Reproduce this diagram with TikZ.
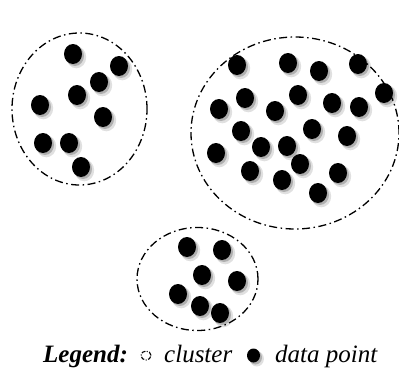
\documentclass[tikz,border=0pt]{standalone}
\usepackage{fontspec}
\setmainfont{Liberation Serif}
\usetikzlibrary{shapes.geometric,shadows}
\begin{document}
\begin{tikzpicture}[x=1pt,y=-1pt,
  pt/.style={ellipse,fill=black,inner sep=0pt,minimum width=18pt,minimum height=20pt,
    drop shadow={shadow xshift=3pt,shadow yshift=-3pt,opacity=0.12,fill=black,shadow scale=1.1},
    drop shadow={shadow xshift=2pt,shadow yshift=-2pt,opacity=0.22,fill=black}},
  clus/.style={ellipse,draw=black,line width=1.3pt,inner sep=0pt,
    dash pattern=on 8pt off 3.5pt on 1.5pt off 3.5pt},
  legtext/.style={anchor=base west,inner sep=0pt,font=\fontsize{25}{28}\selectfont\itshape}]
\useasboundingbox (0,0) rectangle (399,367);
% clusters
\node[clus,minimum width=135pt,minimum height=152pt] (c1) at (79.5,109) {};
\node[clus,minimum width=208pt,minimum height=192pt] (c2) at (295,133) {};
\node[clus,minimum width=121pt,minimum height=103pt] (c3) at (197.5,279) {};
% cluster 1
\foreach \x/\y [count=\i] in {73/54,119/66,99/82,77/95,40/105,103/117,43/143,69/143,81/167}
  \node[pt] (a\i) at (\x,\y) {};
% cluster 2
\foreach \x/\y [count=\i] in {237/65,288/63,319/71,358/64,384/93,245/98,298/95,219/109,275/111,332/103,359/107,241/131,312/129,347/136,261/147,287/146,216/153,300/164,250/171,282/180,338/173,318/193}
  \node[pt] (b\i) at (\x,\y) {};
% cluster 3
\foreach \x/\y [count=\i] in {187/247,222/250,202/275,237/281,178/294,200/306,220/313}
  \node[pt] (d\i) at (\x,\y) {};
% legend
\node[legtext,font=\fontsize{25}{28}\selectfont\bfseries\itshape] (leg) at (43,362) {Legend:};
\node[clus,minimum width=10pt,minimum height=9pt,line width=1.1pt,dash pattern=on 4pt off 1.5pt on 1pt off 1.5pt] (lc) at (146,355.5) {};
\node[legtext] (lct) at (164,362) {cluster};
\node[pt,minimum width=13pt,minimum height=14pt] (ld) at (253.5,355.5) {};
\node[legtext] (ldt) at (275,362) {data point};
\end{tikzpicture}
\end{document}
